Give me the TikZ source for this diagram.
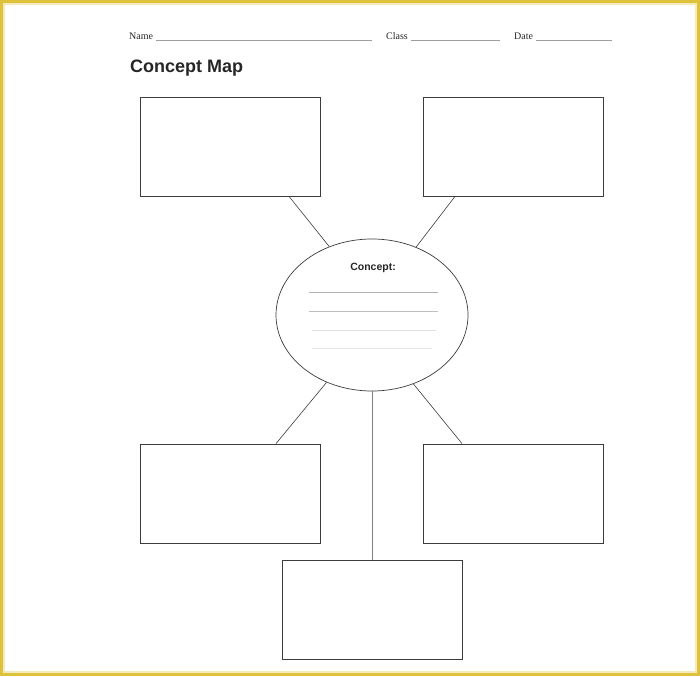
\documentclass[tikz,border=0pt]{standalone}
\usepackage{fontspec}
\setmainfont{Liberation Serif}
\newfontfamily\hv{Liberation Sans}
\usetikzlibrary{shapes.geometric}
\definecolor{frame}{RGB}{222,194,60}
\definecolor{ink}{RGB}{60,60,60}
\tikzset{
  box/.style={draw=ink, line width=0.8pt, minimum width=180pt, minimum height=99pt, inner sep=0pt},
  link/.style={draw=ink, line width=0.6pt},
  field/.style={anchor=base west, inner sep=0pt, font=\fontsize{10}{12}\selectfont, text=black!85},
  rule/.style={draw=black!38, line width=0.5pt},
  wline/.style={line width=0.6pt}
}
\begin{document}
\begin{tikzpicture}[x=1pt,y=-1pt]
\useasboundingbox (0,0) rectangle (700,676);
\fill[frame] (0,0) rectangle (700,676);
\fill[frame!35] (3,3) rectangle (697,673);
\fill[white] (5,5) rectangle (695,671);
% header
\node[field] (name) at (129,40) {Name};
\coordinate (nameend) at (372,40);
\draw[rule] ([xshift=3pt]name.base east) -- (nameend);
\node[field] (class) at (386,40) {Class};
\coordinate (classend) at (500,40);
\draw[rule] ([xshift=3pt]class.base east) -- (classend);
\node[field] (date) at (514,40) {Date};
\coordinate (dateend) at (612,40);
\draw[rule] ([xshift=3pt]date.base east) -- (dateend);
\node[anchor=base west, inner sep=0pt, font=\hv\bfseries\fontsize{18}{20}\selectfont, text=black!85] (title) at (130,73) {Concept Map};
% boxes
\node[box] (tl) at (230,146.5) {};
\node[box] (tr) at (513,146.5) {};
\node[box] (bl) at (230,493.5) {};
\node[box] (br) at (513,493.5) {};
\node[box] (bot) at (372,609.5) {};
% ellipse
\node[ellipse, draw=ink, line width=0.7pt, minimum width=192pt, minimum height=152pt, inner sep=0pt] (ell) at (372,315) {};
\node[font=\hv\bfseries\fontsize{10.5}{12}\selectfont, text=black!85, inner sep=0pt] (concept) at (373,268) {Concept:};
\coordinate (l1a) at (309,292); \coordinate (l1b) at (438,292);
\coordinate (l2a) at (309,311); \coordinate (l2b) at (438,311);
\coordinate (l3a) at (312,330); \coordinate (l3b) at (436,330);
\coordinate (l4a) at (312,348); \coordinate (l4b) at (432,348);
\draw[wline, black!30] (l1a) -- (l1b);
\draw[wline, black!25] (l2a) -- (l2b);
\draw[wline, black!12] (l3a) -- (l3b);
\draw[wline, black!10] (l4a) -- (l4b);
% connectors
\draw[link] ([xshift=59pt]tl.south) -- (ell.122);
\draw[link] ([xshift=-58pt]tr.south) -- (ell.57);
\draw[link] ([xshift=46pt]bl.north) -- (ell.236.5);
\draw[link] ([xshift=-51pt]br.north) -- (ell.301);
\draw[link, draw=black!50] (ell.south) -- (bot.north);
\end{tikzpicture}
\end{document}
